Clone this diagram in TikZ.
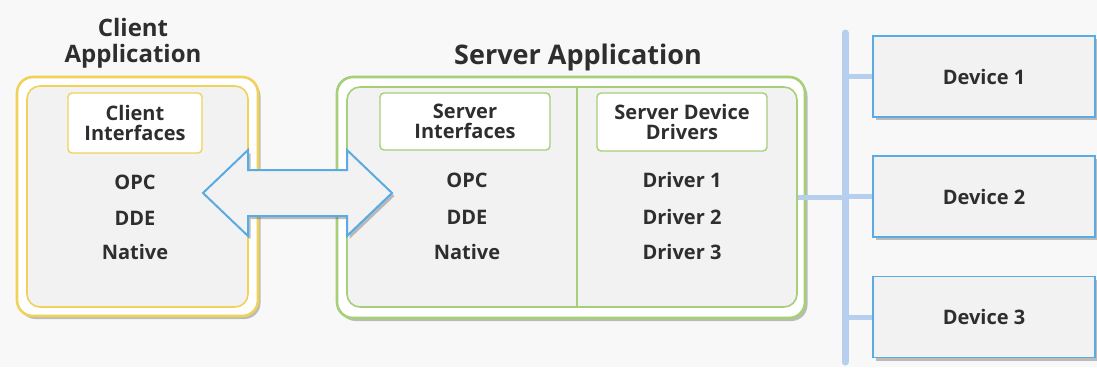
\documentclass[tikz,border=0pt]{standalone}
\usepackage{fontspec}
\setmainfont{Open Sans}
\usetikzlibrary{shadows}
\definecolor{bg}{HTML}{F8F8F8}
\definecolor{boxfill}{HTML}{F2F2F2}
\definecolor{txt}{HTML}{2E2E2E}
\definecolor{yel}{HTML}{F0D25A}
\definecolor{grn}{HTML}{A6CF78}
\definecolor{blu}{HTML}{5AAAE4}
\definecolor{bus}{HTML}{B6CFEE}
\tikzset{
  shad/.style={drop shadow={shadow xshift=2.5pt,shadow yshift=-3pt,opacity=.35,fill=black!70}},
  outerbox/.style={draw=#1,line width=2.6pt,rounded corners=16pt,fill=white,shad},
  innerbox/.style={draw=#1,line width=1.6pt,rounded corners=13pt,fill=boxfill},
  labbox/.style={draw=#1,line width=1.4pt,rounded corners=4pt,fill=white,align=center,
     font=\bfseries\fontsize{20}{23}\selectfont,text=txt,inner sep=0pt},
  item/.style={font=\bfseries\fontsize{20}{24}\selectfont,text=txt,anchor=center},
  title/.style={font=\bfseries\fontsize{#1}{29}\selectfont,text=txt,align=center},
  devbox/.style={draw=blu,line width=1.6pt,fill=boxfill,minimum width=222pt,minimum height=81pt,
     font=\bfseries\fontsize{20}{24}\selectfont,text=txt,shad},
  busline/.style={draw=bus,line width=7pt},
  stub/.style={draw=bus,line width=5pt},
}
\begin{document}
\begin{tikzpicture}[x=1pt,y=-1pt]
\fill[bg] (0,0) rectangle (1097,367);
\useasboundingbox (0,0) rectangle (1097,367);
% client application
\node[outerbox=yel,minimum width=241pt,minimum height=239pt] (cli) at (137.5,196.5) {};
\node[innerbox=yel,minimum width=221pt,minimum height=221pt] (cliin) at (137.5,196.5) {};
\node[title=24,anchor=south] (clititle) at (133,72) {Client\\[-3pt]Application};
\node[labbox=yel,minimum width=134pt,minimum height=60pt] (clif) at (135,123) {Client\\[-3pt]Interfaces};
\node[item] (copc) at (135,182) {OPC};
\node[item] (cdde) at (135,218) {DDE};
\node[item] (cnat) at (135,252) {Native};
% server application
\node[outerbox=grn,minimum width=468pt,minimum height=241pt] (srv) at (571,197.5) {};
\node[innerbox=grn,minimum width=450pt,minimum height=220pt] (srvin) at (572,197) {};
\draw[grn,line width=1.6pt] (577,87) coordinate (divtop) -- (577,307) coordinate (divbot);
\node[title=27,anchor=south] (srvtitle) at (578,75) {Server Application};
\node[labbox=grn,minimum width=170pt,minimum height=57pt] (sif) at (465,121.5) {Server\\[-3pt]Interfaces};
\node[labbox=grn,minimum width=170pt,minimum height=58pt] (sdd) at (682,122) {Server Device\\[-3pt]Drivers};
\node[item] (sopc) at (467,180) {OPC};
\node[item] (sdde) at (467,217) {DDE};
\node[item] (snat) at (467,252) {Native};
\node[item] (d1t) at (682,180) {Driver 1};
\node[item] (d2t) at (682,217) {Driver 2};
\node[item] (d3t) at (682,252) {Driver 3};
% double arrow
\filldraw[draw=blu,fill=boxfill,line width=2pt,line join=miter,shad]
  (203,193) -- (248,150) -- (248,170) -- (347,170) -- (347,150) -- (392,193)
  -- (347,236) -- (347,216) -- (248,216) -- (248,236) -- cycle;
% bus and devices
\coordinate (bustop) at (845,33);
\coordinate (busbot) at (845,362);
\node[devbox] (dev1) at (984,76.5) {Device 1};
\node[devbox] (dev2) at (984,196.5) {Device 2};
\node[devbox] (dev3) at (984,317) {Device 3};
\draw[stub] (srvin.east) -- (srvin.east -| bustop);
\draw[stub] (dev1.west -| bustop) -- (dev1.west);
\draw[stub] (dev2.west -| bustop) -- (dev2.west);
\draw[stub] (dev3.west -| bustop) -- (dev3.west);
\draw[busline,line cap=round] (bustop) -- (busbot);
\end{tikzpicture}
\end{document}
